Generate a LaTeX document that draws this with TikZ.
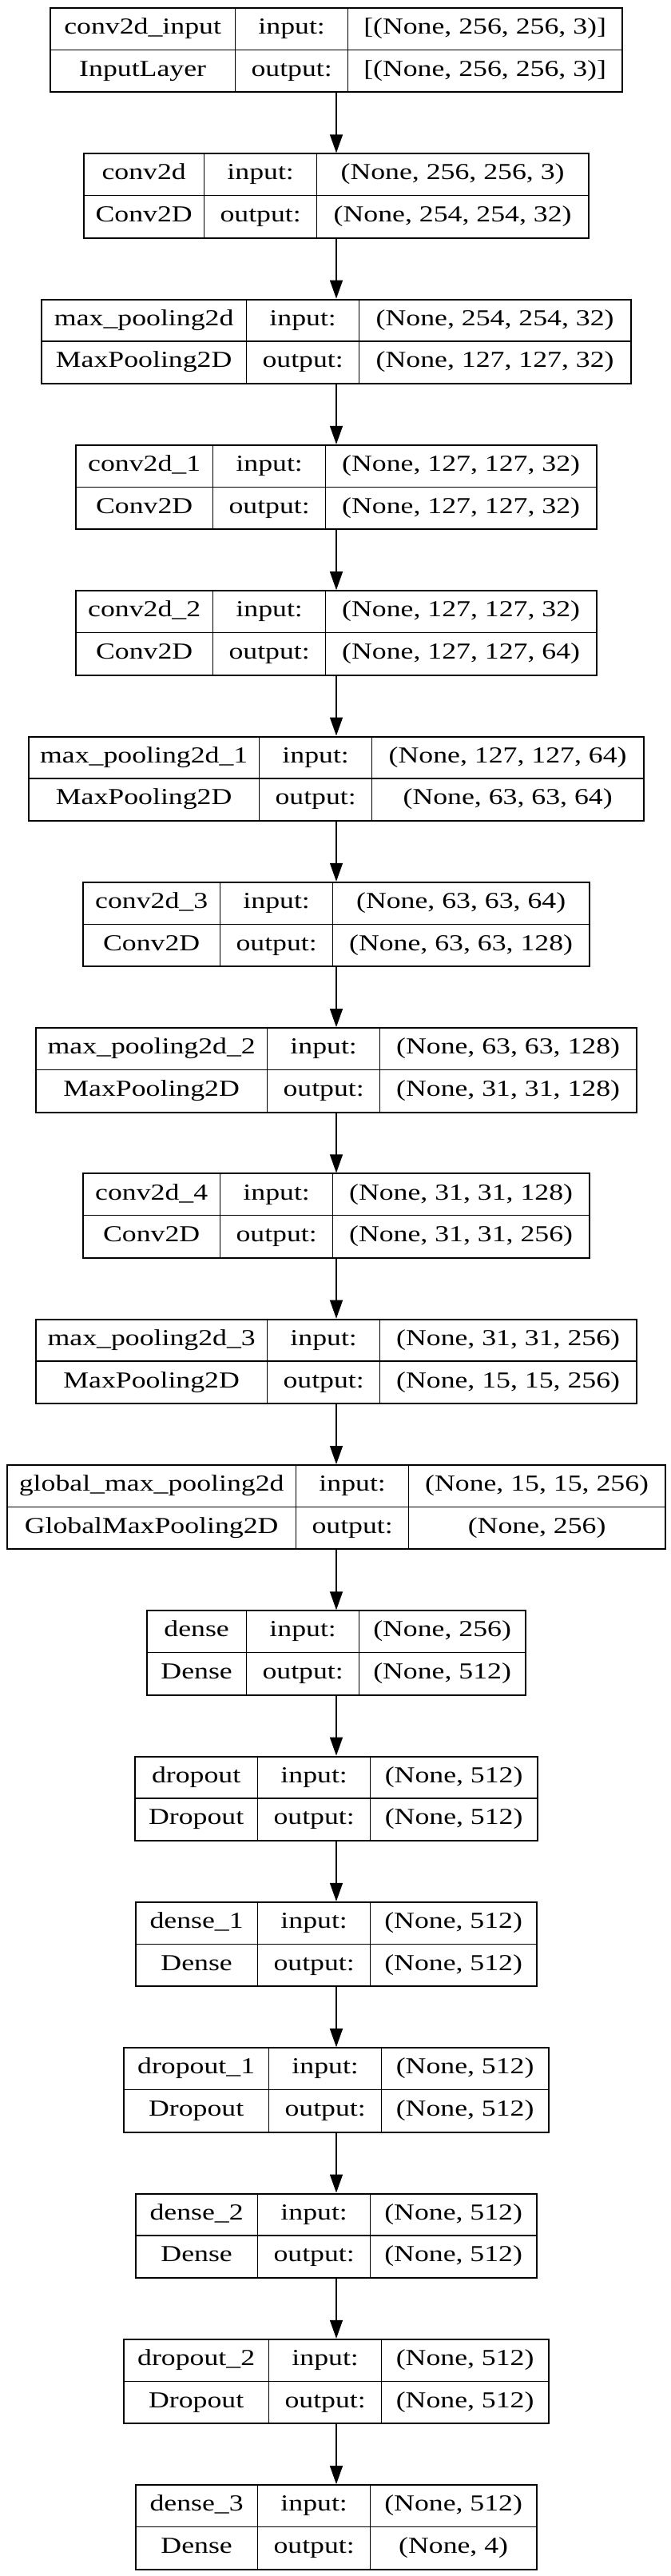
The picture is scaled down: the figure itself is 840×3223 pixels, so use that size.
\documentclass[tikz,border=0pt]{standalone}
\usepackage{fontspec}
\setmainfont{Liberation Serif}[FakeStretch=1.25]
\usetikzlibrary{arrows.meta, positioning}

\tikzset{
  cell/.style={rectangle, draw, line width=0.65pt, inner sep=0pt, minimum height=26.35pt,
    text height=0.66em, text depth=0pt, font=\fontsize{14.3}{16}\selectfont},
  frame/.style={rectangle, draw, line width=1pt, inner sep=0pt, minimum height=52.7pt},
  flow/.style={-{Triangle[length=11.5pt, width=8pt]}, line width=0.7pt}
}

% one layer of the model: index, left edge, first split, name, class, input (output in \layerout)
\newcommand{\layerbox}[6]{%
  \pgfmathsetmacro\boxtop{9+(#1-1)*182.3}
  \pgfmathsetmacro\boxmid{\boxtop+52.7}
  \pgfmathsetmacro\colb{#3+141}
  \node[cell, minimum width={(#3-#2)*0.5pt}, anchor=north west] (L#1-name) at (#2,\boxtop) {#4};
  \node[cell, minimum width={(#3-#2)*0.5pt}, anchor=north west] (L#1-class) at (#2,\boxmid) {#5};
  \node[cell, minimum width=70.5pt, anchor=north west] (L#1-inlbl) at (#3,\boxtop) {input:};
  \node[cell, minimum width=70.5pt, anchor=north west] (L#1-outlbl) at (#3,\boxmid) {output:};
  \node[cell, minimum width={(840-#2-\colb)*0.5pt}, anchor=north west] (L#1-in) at (\colb,\boxtop) {#6};
  \node[cell, minimum width={(840-#2-\colb)*0.5pt}, anchor=north west] (L#1-out) at (\colb,\boxmid) {\layerout};
  \node[frame, minimum width={(840-2*#2)*0.5pt}, anchor=north west] (L#1) at (#2,\boxtop) {};
}

\begin{document}
\begin{tikzpicture}[x=0.5pt, y=-0.5pt]
  \path[fill=white] (0,0) rectangle (840,3223);

  \def\layerout{[(None, 256, 256, 3)]}
  \layerbox{1}{62}{294}{conv2d\_input}{InputLayer}{[(None, 256, 256, 3)]}
  \def\layerout{(None, 254, 254, 32)}
  \layerbox{2}{104}{255}{conv2d}{Conv2D}{(None, 256, 256, 3)}
  \def\layerout{(None, 127, 127, 32)}
  \layerbox{3}{51}{308}{max\_pooling2d}{MaxPooling2D}{(None, 254, 254, 32)}
  \def\layerout{(None, 127, 127, 32)}
  \layerbox{4}{94}{266}{conv2d\_1}{Conv2D}{(None, 127, 127, 32)}
  \def\layerout{(None, 127, 127, 64)}
  \layerbox{5}{94}{266}{conv2d\_2}{Conv2D}{(None, 127, 127, 32)}
  \def\layerout{(None, 63, 63, 64)}
  \layerbox{6}{35}{324}{max\_pooling2d\_1}{MaxPooling2D}{(None, 127, 127, 64)}
  \def\layerout{(None, 63, 63, 128)}
  \layerbox{7}{103}{275}{conv2d\_3}{Conv2D}{(None, 63, 63, 64)}
  \def\layerout{(None, 31, 31, 128)}
  \layerbox{8}{44}{334}{max\_pooling2d\_2}{MaxPooling2D}{(None, 63, 63, 128)}
  \def\layerout{(None, 31, 31, 256)}
  \layerbox{9}{103}{275}{conv2d\_4}{Conv2D}{(None, 31, 31, 128)}
  \def\layerout{(None, 15, 15, 256)}
  \layerbox{10}{44}{334}{max\_pooling2d\_3}{MaxPooling2D}{(None, 31, 31, 256)}
  \def\layerout{(None, 256)}
  \layerbox{11}{8}{370}{global\_max\_pooling2d}{GlobalMaxPooling2D}{(None, 15, 15, 256)}
  \def\layerout{(None, 512)}
  \layerbox{12}{183}{308}{dense}{Dense}{(None, 256)}
  \layerbox{13}{168}{322}{dropout}{Dropout}{(None, 512)}
  \layerbox{14}{169}{322}{dense\_1}{Dense}{(None, 512)}
  \layerbox{15}{154}{336}{dropout\_1}{Dropout}{(None, 512)}
  \layerbox{16}{169}{322}{dense\_2}{Dense}{(None, 512)}
  \layerbox{17}{154}{336}{dropout\_2}{Dropout}{(None, 512)}
  \def\layerout{(None, 4)}
  \layerbox{18}{169}{322}{dense\_3}{Dense}{(None, 512)}

  \path[flow, draw]
  (L1) edge (L2)
  (L2) edge (L3)
  (L3) edge (L4)
  (L4) edge (L5)
  (L5) edge (L6)
  (L6) edge (L7)
  (L7) edge (L8)
  (L8) edge (L9)
  (L9) edge (L10)
  (L10) edge (L11)
  (L11) edge (L12)
  (L12) edge (L13)
  (L13) edge (L14)
  (L14) edge (L15)
  (L15) edge (L16)
  (L16) edge (L17)
  (L17) edge (L18);
\end{tikzpicture}
\end{document}
